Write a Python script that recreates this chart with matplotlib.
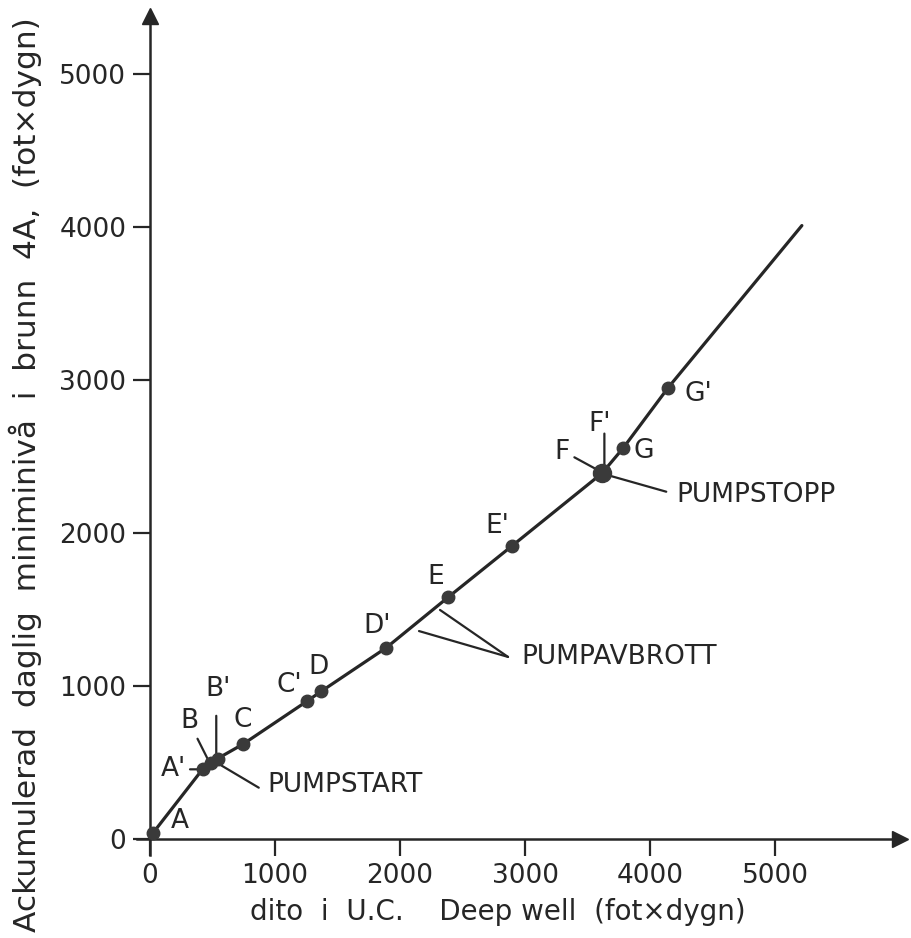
import numpy as np
import matplotlib.pyplot as plt

# ackumulerade värden (fot x dygn)
x_uc = [0, 25, 420, 490, 540, 745, 1255, 1370, 1890, 2385, 2895, 3615, 3615, 3785, 4145, 5215]
y_4a = [0, 40, 455, 495, 525, 620, 900, 965, 1250, 1580, 1915, 2390, 2390, 2555, 2950, 4010]
namn = ['', 'A', "A'", 'B', "B'", 'C', "C'", 'D', "D'", 'E', "E'", 'F', "F'", 'G', "G'", '']

ticks = [0, 1000, 2000, 3000, 4000, 5000]

ink = '#262626'
fs = 19
plt.rcParams['font.family'] = 'DejaVu Sans'

fig = plt.figure(figsize=(9.11, 9.38), dpi=100)
ax = fig.add_axes([0.1504, 0.0885, 0.8485, 0.906])
ax.set_xlim(-104, 6080)
ax.set_ylim(-105, 5451)

# axlar med pilar
for s in ['top', 'right']:
    ax.spines[s].set_visible(False)
for s in ['left', 'bottom']:
    ax.spines[s].set_position(('data', 0))
    ax.spines[s].set_linewidth(1.8)
    ax.spines[s].set_color(ink)
ax.spines['left'].set_bounds(-105, 5380)
ax.spines['bottom'].set_bounds(-104, 6000)
ax.plot(6000, 0, marker='>', ms=11, color=ink, clip_on=False)
ax.plot(0, 5380, marker='^', ms=11, color=ink, clip_on=False)

ax.set_xticks(ticks)
ax.set_yticks(ticks)
ax.tick_params(direction='out', length=12, width=1.6, colors=ink, labelsize=fs, pad=5)
ax.set_xticklabels([str(t) for t in ticks])
ax.set_yticklabels([str(t) for t in ticks])

# kurvan
ax.plot(x_uc, y_4a, color=ink, lw=2.3, solid_capstyle='round', zorder=3)
pts = [i for i in range(len(namn)) if namn[i]]
ax.plot([x_uc[i] for i in pts], [y_4a[i] for i in pts], 'o', color='#3a3a3a', ms=9, zorder=4)
ax.plot(x_uc[11], y_4a[11], 'o', color='#3a3a3a', ms=13, zorder=4)

# punktnamn: förskjutning i pixlar från punkten
offs = {'A': (27, 12), "A'": (-29, 0), 'B': (-22, 42), "B'": (1, 70), 'C': (0, 24),
        "C'": (-18, 16), 'D': (-3, 24), "D'": (-9, 22), 'E': (-12, 20), "E'": (-15, 20),
        'F': (-40, 21), "F'": (-2, 49), 'G': (21, -3), "G'": (30, -6)}
for i in pts:
    dx, dy = offs[namn[i]]
    ax.annotate(namn[i], (x_uc[i], y_4a[i]), xytext=(dx, dy), textcoords='offset pixels',
                ha='center', va='center', fontsize=fs, color=ink)

# hänvisningslinjer
lead = dict(arrowstyle='-', color=ink, lw=1.6, shrinkA=0, shrinkB=0)


def streck(p0, p1):
    ax.annotate('', p0, xytext=p1, arrowprops=lead)


streck((x_uc[2] - 20, y_4a[2]), (x_uc[2] - 100, y_4a[2]))
streck((x_uc[3] - 30, y_4a[3] + 30), (x_uc[3] - 110, y_4a[3] + 160))
streck((x_uc[4] - 10, y_4a[4] + 30), (x_uc[4] - 10, y_4a[4] + 280))
streck((x_uc[11] - 40, y_4a[11] + 25), (x_uc[11] - 220, y_4a[11] + 105))
streck((x_uc[12] + 20, y_4a[12] + 40), (x_uc[12] + 20, y_4a[12] + 260))

streck((x_uc[4] - 20, y_4a[4] - 20), (870, 335))
ax.text(940, 355, 'PUMPSTART', ha='left', va='center', fontsize=fs, color=ink)

streck((x_uc[11] + 40, y_4a[11] - 10), (4130, 2270))
ax.text(4210, 2250, 'PUMPSTOPP', ha='left', va='center', fontsize=fs, color=ink)

streck((2320, 1497), (2864, 1190))
streck((2152, 1359), (2864, 1190))
ax.text(2970, 1190, 'PUMPAVBROTT', ha='left', va='center', fontsize=fs, color=ink)

fig.text(0.0275, 0.4936, 'Ackumulerad  daglig  miniminivå  i  brunn  4A,  (fot×dygn)',
         rotation=90, ha='center', va='center', fontsize=22.5, color=ink)
fig.text(0.546, 0.028, 'dito  i  U.C.    Deep well  (fot×dygn)', ha='center', va='center',
         fontsize=20, color=ink)

fig.savefig('out.png', dpi=100, facecolor='white')
